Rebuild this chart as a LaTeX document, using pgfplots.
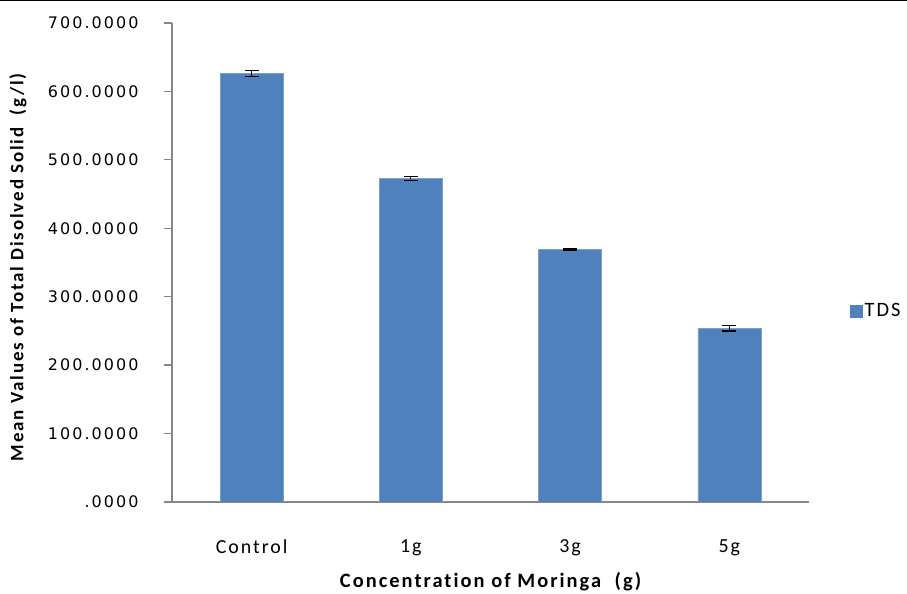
\documentclass[border=0pt]{standalone}
\usepackage{pgfplots}
\pgfplotsset{compat=1.18}
\usepackage{fontspec}
\setmainfont{Carlito}[LetterSpace=10, Ligatures=NoCommon]
\newfontfamily\tickfont{DejaVu Sans}[LetterSpace=13]
\definecolor{barblue}{HTML}{4F81BD}
\definecolor{axisgray}{HTML}{868686}

\begin{document}
\begin{tikzpicture}[x=1bp,y=1bp]
\useasboundingbox (0,0) rectangle (907,594);
\draw[line width=2.5bp] (0,594) -- (907,594);
\begin{axis}[
    at={(172bp,92bp)},
    anchor=south west,
    width=637bp,
    height=479bp,
    scale only axis,
    axis lines=left,
    axis line style={-, draw=axisgray, line width=1.3bp},
    xmin=0,
    xmax=4,
    ymin=0,
    ymax=700,
    xtick={0.5,1.5,2.5,3.5},
    xticklabels={Control,1g,3g,5g},
    x tick style={draw=none},
    ytick={0,100,...,700},
    yticklabels={.0000,100.0000,200.0000,300.0000,400.0000,500.0000,600.0000,700.0000},
    y tick style={draw=axisgray, line width=1.3bp},
    tick align=outside,
    major tick length=8bp,
    xticklabel style={font=\fontsize{20}{20}\selectfont, yshift=-26bp},
    yticklabel style={font=\tickfont\fontsize{16}{16}\selectfont, xshift=-22bp},
    xlabel={Concentration of Moringa\ \ (g)},
    xlabel style={at={(axis description cs:0.5,0)}, anchor=base, yshift=-86bp,
        font=\bfseries\fontsize{20.5}{20.5}\selectfont},
    ylabel={Mean Values of Total Disolved Solid\ \ (g/l)},
    ylabel style={at={(axis description cs:0,0.49)}, anchor=center, yshift=154bp,
        font=\bfseries\fontsize{19}{19}\selectfont},
    legend style={at={(1.064,0.399)}, anchor=west, draw=none, fill=none,
        font=\fontsize{20.5}{20.5}\selectfont, inner sep=0pt},
    legend image code/.code={\fill[barblue] (0bp,-6bp) rectangle (12bp,6bp);},
]

\addplot[
    ybar,
    bar width=63bp,
    fill=barblue,
    draw=barblue!75!white,
    line width=0.6bp,
    error bars/.cd,
    y dir=both,
    y explicit,
    error bar style={black, line width=1.2bp},
    error mark options={black, mark size=7bp, line width=1.2bp, rotate=90},
]
coordinates {
    (0.5,626) +- (0,4)
    (1.5,473) +- (0,3)
    (2.5,369) +- (0,0.6)
    (3.5,254) +- (0,4)
};
\addlegendentry{TDS}

\end{axis}
\end{tikzpicture}
\end{document}
